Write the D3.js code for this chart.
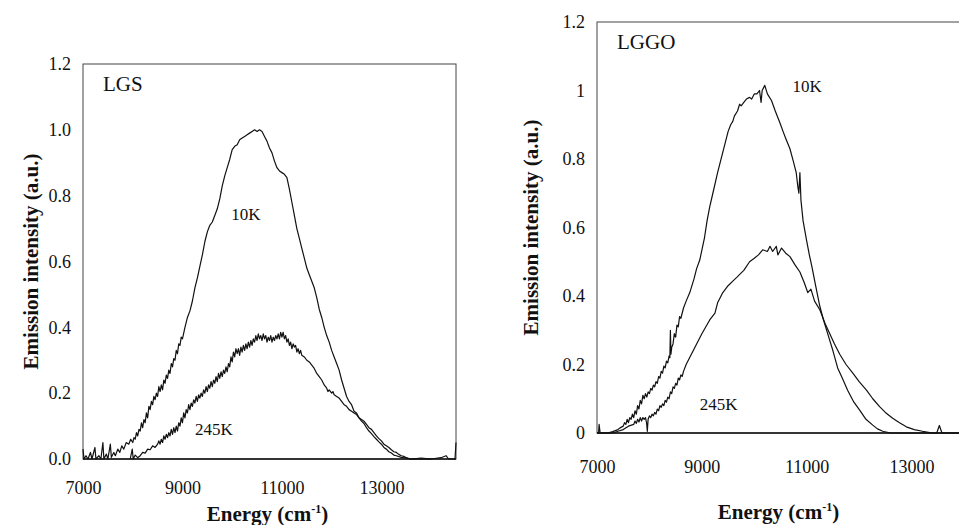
<!DOCTYPE html>
<html>
<head>
<meta charset="utf-8">
<script src="https://cdn.jsdelivr.net/npm/d3@7/dist/d3.min.js"></script>
<style>
  body { margin: 0; background: #fff; }
  svg text { font-family: "Liberation Serif", "Times New Roman", serif; fill: #111; }
</style>
</head>
<body>
<div id="chart"></div>
<script>
!(function(){
    "use strict"

    // tick labels
    var lgsYTicks = [0, 0.2, 0.4, 0.6, 0.8, 1.0, 1.2]
    var lggoYTicks = [0, 0.2, 0.4, 0.6, 0.8, 1, 1.2]
    var lgsXTicks = [7000, 9000, 11000, 13000]
    var lggoXTicks = [7000, 9000, 11000, 13000]

    // LGS, 10K  [energy cm-1, intensity]
    var lgs10K = [
        [7000,0.03],[7020,0],[7060,0.01],[7100,0],[7150,0.02],[7180,0],[7240,0.035],[7260,0],
        [7320,0.01],[7360,0],[7400,0.05],[7420,0],[7470,0.015],[7500,0],[7550,0.045],[7570,0.005],
        [7620,0.02],[7650,0.01],[7700,0.03],[7740,0.02],[7780,0.04],[7820,0.03],[7870,0.05],[7920,0.045],
        [7960,0.06],[8000,0.05],[8025,0.065],[8050,0.06],[8075,0.08],[8100,0.07],[8125,0.09],[8150,0.085],
        [8175,0.11],[8200,0.095],[8225,0.12],[8250,0.11],[8275,0.14],[8300,0.125],[8325,0.16],[8350,0.15],
        [8375,0.175],[8400,0.165],[8425,0.19],[8450,0.18],[8475,0.2],[8500,0.19],[8525,0.22],[8550,0.205],
        [8575,0.225],[8600,0.21],[8625,0.24],[8650,0.23],[8675,0.255],[8700,0.245],[8725,0.27],[8750,0.26],
        [8775,0.29],[8800,0.28],[8825,0.305],[8850,0.3],[8875,0.33],[8900,0.32],[8925,0.35],[8950,0.345],
        [8975,0.37],[9000,0.365],[9050,0.4],[9100,0.43],
        [9150,0.45],[9200,0.48],[9250,0.52],[9300,0.55],[9350,0.585],[9400,0.62],[9450,0.66],[9500,0.69],
        [9550,0.71],[9600,0.72],[9650,0.74],[9700,0.76],[9750,0.79],[9800,0.83],[9850,0.86],[9900,0.885],
        [9950,0.91],[10000,0.94],[10050,0.95],[10100,0.955],[10150,0.97],[10200,0.975],[10250,0.98],[10300,0.985],
        [10350,0.99],[10400,0.995],[10450,1.0],[10500,0.995],[10550,1.0],[10600,0.995],[10650,0.98],[10700,0.965],
        [10750,0.945],[10800,0.93],[10850,0.905],[10900,0.885],[10950,0.875],[11000,0.87],[11050,0.865],[11100,0.855],
        [11150,0.82],[11200,0.78],[11250,0.74],[11300,0.7],[11350,0.67],[11400,0.64],[11450,0.61],[11500,0.58],
        [11550,0.56],[11600,0.54],[11650,0.52],[11700,0.49],[11750,0.455],[11800,0.43],[11850,0.4],[11900,0.375],
        [11950,0.355],[12000,0.33],[12050,0.31],[12100,0.29],[12150,0.27],[12200,0.24],[12250,0.215],[12300,0.19],
        [12350,0.175],[12400,0.165],[12450,0.145],[12500,0.14],[12550,0.125],[12600,0.115],[12650,0.108],[12700,0.095],
        [12750,0.085],[12800,0.077],[12850,0.068],[12900,0.06],[12950,0.052],[13000,0.045],[13050,0.035],[13100,0.03],
        [13150,0.022],[13200,0.018],[13250,0.012],[13300,0.01],[13400,0.005],[13500,0.003],[13600,0],[13800,0.003],
        [14000,0],[14200,0.004],[14300,0.01],[14350,0],[14480,0],[14500,0.05]
    ]

    // LGS, 245K
    var lgs245K = [
        [7950,0],[7990,0.03],[8010,0],[8050,0.012],[8100,0.004],[8150,0.01],[8200,0.02],[8250,0.018],
        [8300,0.03],[8350,0.028],[8400,0.04],[8450,0.035],[8500,0.045],[8525,0.055],[8550,0.045],[8575,0.06],
        [8600,0.05],[8625,0.07],[8650,0.06],[8675,0.075],[8700,0.065],[8725,0.08],[8750,0.07],[8775,0.09],
        [8800,0.075],[8825,0.095],[8850,0.08],[8875,0.1],[8900,0.085],[8925,0.11],[8950,0.1],[8975,0.125],
        [9000,0.11],[9025,0.14],[9050,0.125],[9075,0.15],[9100,0.14],[9125,0.165],[9150,0.15],[9175,0.17],
        [9200,0.16],[9225,0.18],[9250,0.17],[9275,0.19],[9300,0.175],[9325,0.195],[9350,0.185],[9375,0.2],
        [9400,0.19],[9425,0.21],[9450,0.2],[9475,0.22],[9500,0.205],[9525,0.225],[9550,0.215],[9575,0.235],
        [9600,0.22],[9625,0.24],[9650,0.23],[9675,0.25],[9700,0.235],[9725,0.26],[9750,0.245],[9775,0.265],
        [9800,0.25],[9825,0.27],[9850,0.26],[9875,0.28],[9900,0.265],[9925,0.29],[9950,0.28],[9975,0.31],
        [10000,0.295],[10025,0.325],[10050,0.31],[10075,0.335],[10100,0.32],[10125,0.335],[10150,0.315],[10175,0.34],
        [10200,0.325],[10225,0.345],[10250,0.33],[10275,0.35],[10300,0.335],[10325,0.355],[10350,0.34],[10375,0.36],
        [10400,0.345],[10425,0.365],[10450,0.355],[10475,0.375],[10500,0.36],[10525,0.38],[10550,0.365],[10575,0.375],
        [10600,0.36],[10625,0.38],[10650,0.365],[10675,0.375],[10700,0.355],[10725,0.37],[10750,0.36],[10775,0.375],
        [10800,0.355],[10825,0.37],[10850,0.36],[10875,0.375],[10900,0.365],[10925,0.38],[10950,0.365],[10975,0.385],
        [11000,0.37],[11025,0.385],[11050,0.365],[11075,0.375],[11100,0.355],[11125,0.365],[11150,0.345],[11175,0.355],
        [11200,0.335],[11225,0.35],[11250,0.34],[11275,0.345],[11300,0.325],[11325,0.335],[11350,0.32],[11375,0.33],
        [11400,0.315],[11450,0.31],[11500,0.3],[11550,0.295],[11600,0.285],[11650,0.275],[11700,0.26],[11750,0.25],
        [11800,0.24],[11850,0.225],[11900,0.215],[11925,0.205],[11950,0.21],[12000,0.2],[12025,0.205],[12050,0.195],
        [12100,0.19],[12150,0.185],[12200,0.175],[12250,0.165],[12300,0.16],[12350,0.15],[12400,0.145],[12450,0.14],
        [12500,0.135],[12550,0.125],[12600,0.12],[12650,0.115],[12700,0.105],[12750,0.095],[12800,0.09],[12850,0.08],
        [12900,0.07],[12950,0.062],[13000,0.055],[13050,0.045],[13100,0.04],[13150,0.035],[13200,0.028],[13250,0.022],
        [13300,0.02],[13350,0.014],[13400,0.01],[13450,0.008],[13500,0.004],[13580,0],[14000,0]
    ]

    // LGGO, 10K
    var lggo10K = [
        [7000,0],[7030,0],[7040,0.025],[7060,0],[7200,0],[7300,0.004],[7400,0.01],[7440,0.015],
        [7500,0.02],[7525,0.03],[7550,0.025],[7575,0.04],[7600,0.03],[7625,0.045],[7650,0.04],[7675,0.055],
        [7700,0.045],[7725,0.065],[7750,0.055],[7775,0.08],[7800,0.07],[7825,0.095],[7850,0.085],[7875,0.11],
        [7900,0.1],[7925,0.115],[7950,0.105],[7975,0.12],[8000,0.115],[8025,0.13],[8050,0.125],[8075,0.14],
        [8100,0.135],[8125,0.15],[8150,0.145],[8175,0.165],[8200,0.16],[8225,0.18],[8250,0.175],[8275,0.195],
        [8300,0.19],[8325,0.21],[8350,0.205],[8375,0.225],[8390,0.22],[8400,0.3],[8410,0.23],[8425,0.25],
        [8450,0.26],[8475,0.29],[8500,0.28],[8525,0.315],[8550,0.31],[8575,0.34],[8600,0.335],[8650,0.365],
        [8700,0.385],[8770,0.41],[8850,0.45],[8900,0.48],[8960,0.505],[9050,0.57],
        [9100,0.62],[9150,0.66],[9210,0.7],[9300,0.76],[9400,0.82],[9450,0.85],[9500,0.88],[9550,0.9],
        [9590,0.91],[9620,0.925],[9680,0.94],[9720,0.96],[9750,0.955],[9800,0.965],[9850,0.975],[9910,0.98],
        [9950,0.975],[10000,0.99],[10050,0.99],[10100,1.0],[10130,0.965],[10150,1.0],[10200,1.015],[10250,0.99],
        [10330,0.97],[10400,0.94],[10490,0.905],[10550,0.88],[10600,0.86],[10680,0.83],[10750,0.79],[10800,0.76],
        [10830,0.72],[10850,0.7],[10870,0.76],[10890,0.68],[10930,0.62],[11000,0.56],[11050,0.52],[11100,0.485],
        [11170,0.43],[11250,0.37],[11320,0.33],[11400,0.29],[11500,0.24],[11590,0.19],[11680,0.16],[11780,0.125],
        [11900,0.09],[12010,0.067],[12130,0.04],[12260,0.023],[12350,0.012],[12450,0.005],[12600,0],[14000,0]
    ]

    // LGGO, 245K
    var lggo245K = [
        [7000,0],[7300,0],[7400,0.005],[7500,0.01],[7600,0.02],[7700,0.025],[7725,0.035],[7750,0.028],
        [7775,0.04],[7800,0.032],[7825,0.045],[7850,0.035],[7875,0.045],[7900,0.04],[7925,0.045],[7945,0.03],
        [7960,0.005],[7975,0.04],[8000,0.05],[8025,0.045],[8050,0.055],[8075,0.05],[8100,0.06],[8125,0.055],
        [8150,0.07],[8175,0.065],[8200,0.08],[8225,0.075],[8250,0.085],[8275,0.08],[8300,0.095],[8325,0.09],
        [8350,0.105],[8375,0.1],[8400,0.12],[8425,0.115],[8450,0.135],[8475,0.13],[8500,0.145],[8525,0.14],
        [8550,0.16],[8575,0.155],[8600,0.17],[8625,0.165],[8650,0.18],[8700,0.2],
        [8800,0.23],[8900,0.26],[9000,0.29],[9150,0.33],[9250,0.35],[9300,0.38],[9400,0.41],[9500,0.43],
        [9600,0.445],[9670,0.455],[9800,0.475],[9910,0.5],[10000,0.51],[10080,0.52],[10160,0.535],[10250,0.53],
        [10300,0.545],[10350,0.53],[10420,0.545],[10450,0.52],[10520,0.54],[10600,0.525],[10680,0.515],[10780,0.49],
        [10870,0.47],[10950,0.44],[11020,0.41],[11080,0.42],[11150,0.385],[11250,0.36],[11350,0.32],[11440,0.29],
        [11530,0.26],[11630,0.23],[11750,0.2],[11880,0.175],[12000,0.15],[12140,0.125],[12260,0.1],[12390,0.077],
        [12500,0.06],[12640,0.043],[12770,0.03],[12900,0.018],[13050,0.01],[13210,0.005],[13400,0],[13480,0],
        [13530,0.022],[13580,0],[14000,0]
    ]

    // curve labels [energy, intensity, text]
    var lgsLabels = [[9980, 0.725, "10K"], [9250, 0.073, "245K"]]
    var lggoLabels = [[10730, 0.995, "10K"], [8960, 0.067, "245K"]]

    var width = 959, height = 525

    var svg = d3.select("#chart").append("svg")
        .attr("width", width)
        .attr("height", height)

    var panels = [
        { name: "LGS", series: [lgs10K, lgs245K], labels: lgsLabels,
          xDomain: [7000, 14500], xRange: [83, 456], yRange: [459, 64],
          xTicks: lgsXTicks, yTicks: lgsYTicks, yFmt: d3.format(".1f"),
          xPad: 22, yTitleX: 31, xTitleY: 521 },
        { name: "LGGO", series: [lggo10K, lggo245K], labels: lggoLabels,
          xDomain: [7000, 14000], xRange: [597, 964], yRange: [433, 22],
          xTicks: lggoXTicks, yTicks: lggoYTicks, yFmt: function(d) { return (d === 0 || d === 1) ? String(d) : d3.format(".1f")(d) },
          xPad: 27, yTitleX: 531, xTitleY: 519 }
    ]

    panels.forEach(drawPanel)

    function drawPanel(p) {
        var x = d3.scaleLinear().domain(p.xDomain).range(p.xRange)
        var y = d3.scaleLinear().domain([0, 1.2]).range(p.yRange)

        var g = svg.append("g").classed("panel", true)

        // frame
        g.append("rect")
            .attr("x", p.xRange[0])
            .attr("y", p.yRange[1])
            .attr("width", p.xRange[1] - p.xRange[0])
            .attr("height", p.yRange[0] - p.yRange[1])
            .attr("fill", "none")
            .attr("stroke", "#444")
            .attr("stroke-width", 1)

        var yAxis = g.append("g")
            .attr("transform", "translate(" + p.xRange[0] + ",0)")
            .call(d3.axisLeft(y).tickValues(p.yTicks).tickSize(0).tickPadding(12).tickFormat(p.yFmt))
        yAxis.select(".domain").remove()

        var xAxis = g.append("g")
            .attr("transform", "translate(0," + p.yRange[0] + ")")
            .call(d3.axisBottom(x).tickValues(p.xTicks).tickSize(0).tickPadding(p.xPad).tickFormat(d3.format("d")))
        xAxis.select(".domain").remove()

        g.selectAll(".tick text")
            .style("font-size", "18px")
            .style("font-family", "'Liberation Serif', serif")
            .attr("fill", "#111")

        // baseline a bit darker
        g.append("line")
            .attr("x1", p.xRange[0]).attr("x2", p.xRange[1])
            .attr("y1", y(0)).attr("y2", y(0))
            .attr("stroke", "#111")
            .attr("stroke-width", 1.3)

        var line = d3.line()
            .x(function(d) { return x(d[0]) })
            .y(function(d) { return y(d[1]) })

        g.selectAll(".curve")
            .data(p.series)
            .enter()
            .append("path")
            .classed("curve", true)
            .attr("d", line)
            .attr("fill", "none")
            .attr("stroke", "#111")
            .attr("stroke-width", 1.2)
            .attr("stroke-linejoin", "round")

        g.selectAll(".lbl")
            .data(p.labels)
            .enter()
            .append("text")
            .classed("lbl", true)
            .attr("x", function(d) { return x(d[0]) })
            .attr("y", function(d) { return y(d[1]) })
            .style("font-size", "17px")
            .text(function(d) { return d[2] })

        // sample name
        g.append("text")
            .attr("x", x(p.xDomain[0]) + 20)
            .attr("y", y(1.2) + 27)
            .style("font-size", "21px")
            .text(p.name)

        // axis titles
        g.append("text")
            .attr("transform", "translate(" + p.yTitleX + "," + (p.yRange[0] + p.yRange[1]) / 2 + ") rotate(-90)")
            .attr("text-anchor", "middle")
            .attr("dy", "0.35em")
            .style("font-size", "21px")
            .style("font-weight", "bold")
            .text("Emission intensity (a.u.)")

        var xt = g.append("text")
            .attr("x", (p.xRange[0] + p.xRange[1]) / 2 - 2)
            .attr("y", p.xTitleY)
            .attr("text-anchor", "middle")
            .style("font-size", "21px")
            .style("font-weight", "bold")
        xt.append("tspan").text("Energy (cm")
        xt.append("tspan").attr("dy", -8).style("font-size", "12px").text("-1")
        xt.append("tspan").attr("dy", 8).text(")")
    }
}());
</script>
</body>
</html>
